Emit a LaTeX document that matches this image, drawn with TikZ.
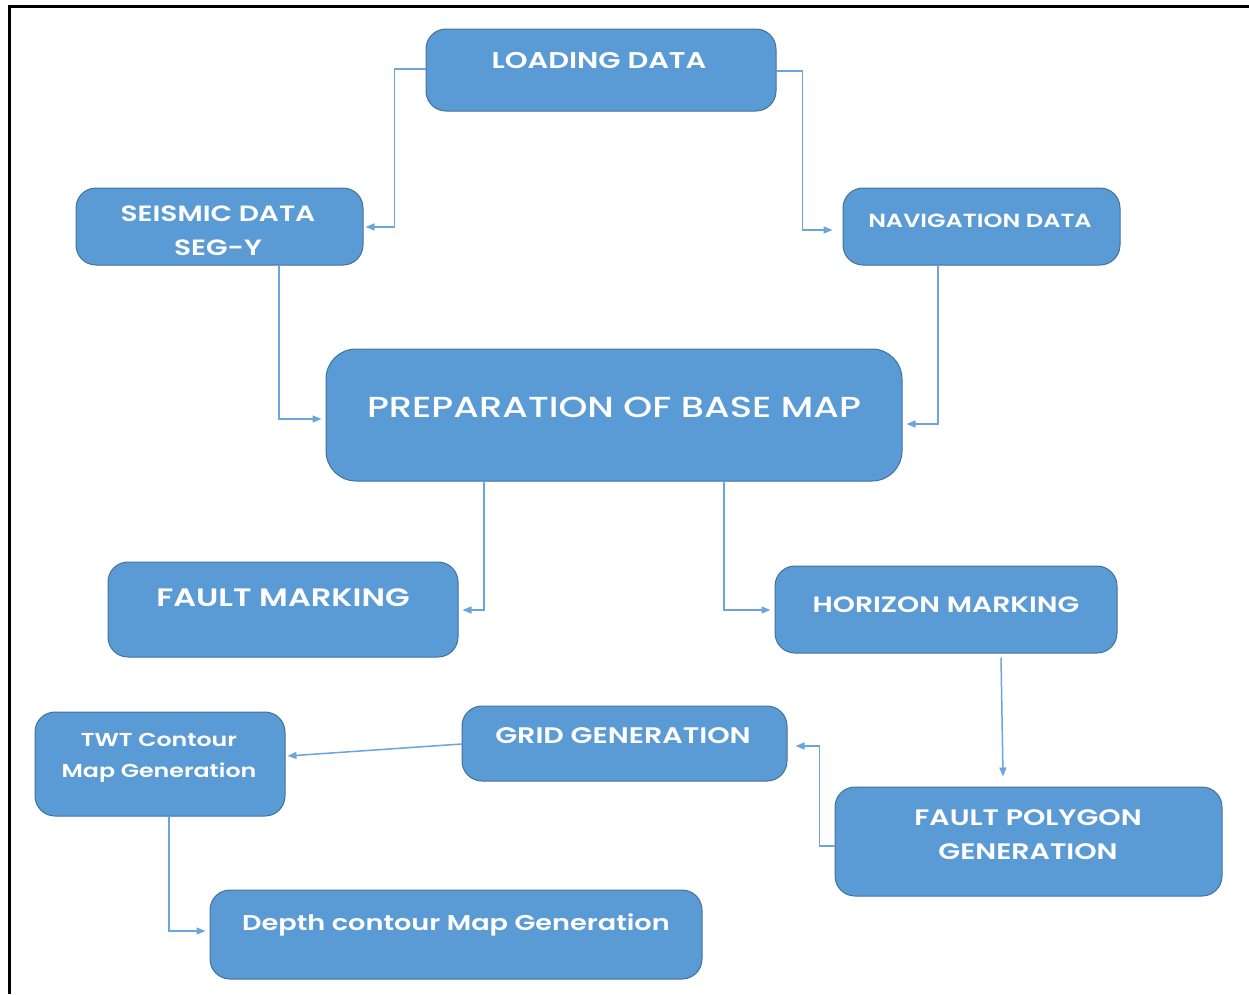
\documentclass[tikz,border=0pt]{standalone}
\usepackage{fontspec}
\setmainfont{Poppins}[FakeStretch=1.27, BoldFont={Poppins SemiBold}]
\newfontfamily\medfont{Poppins Medium}[FakeStretch=1.27]
\usetikzlibrary{arrows.meta}
\definecolor{boxblue}{HTML}{5B9BD5}
\definecolor{boxedge}{HTML}{41719C}
\definecolor{conn}{HTML}{6AA5DC}
\tikzset{
  box/.style={draw=boxedge, fill=boxblue, line width=1pt, rounded corners=20pt, inner sep=0pt},
  lbl/.style={text=white, align=center, inner sep=0pt},
  conline/.style={draw=conn, line width=1.5pt, -{Triangle[length=9pt,width=7pt]}}
}
\begin{document}
\begin{tikzpicture}[x=1pt,y=-1pt]
\useasboundingbox (0,0) rectangle (1249,994);
\draw[line width=3pt, black] (9,994) -- (9,6) -- (1249,6);

\node[box, minimum width=350pt, minimum height=82pt] (load) at (601,70) {};
\node[box, minimum width=287pt, minimum height=77pt] (seis) at (219.5,226.5) {};
\node[box, minimum width=277pt, minimum height=77pt] (nav) at (981.5,226.5) {};
\node[box, rounded corners=30pt, minimum width=576pt, minimum height=132pt] (prep) at (614,415) {};
\node[box, minimum width=350pt, minimum height=95pt] (fault) at (283,609.5) {};
\node[box, minimum width=342pt, minimum height=87pt] (hor) at (946,609.5) {};
\node[box, minimum width=325pt, minimum height=75pt] (grid) at (624.5,743.5) {};
\node[box, minimum width=250pt, minimum height=104pt] (twt) at (160,764) {};
\node[box, minimum width=387pt, minimum height=109pt] (fpoly) at (1028.5,841.5) {};
\node[box, minimum width=492pt, minimum height=89pt] (depth) at (456,934.5) {};

\node[lbl, font=\bfseries\fontsize{22.8}{26}\selectfont] (tload) at (599,61) {LOADING DATA};
\node[lbl, font=\bfseries\fontsize{22.1}{34}\selectfont] (tseis) at (218,231) {SEISMIC DATA\\SEG-Y};
\node[lbl, font=\bfseries\fontsize{19}{22}\selectfont] (tnav) at (980,221) {NAVIGATION DATA};
\node[lbl, font=\medfont\fontsize{29}{34}\selectfont] (tprep) at (614,407) {PREPARATION OF BASE MAP};
\node[lbl, font=\bfseries\fontsize{25.2}{30}\selectfont] (tfault) at (283,598) {FAULT MARKING};
\node[lbl, font=\bfseries\fontsize{22.2}{26}\selectfont] (thor) at (946,605) {HORIZON MARKING};
\node[lbl, font=\bfseries\fontsize{22.5}{26}\selectfont] (tgrid) at (623,736) {GRID GENERATION};
\node[lbl, font=\bfseries\fontsize{18.7}{31}\selectfont] (ttwt) at (159,757.5) {TWT Contour\\Map Generation};
\node[lbl, font=\bfseries\fontsize{22.4}{34}\selectfont] (tfpoly) at (1028,835) {FAULT POLYGON\\GENERATION};
\node[lbl, font=\bfseries\fontsize{21.4}{26}\selectfont] (tdepth) at (456,925) {Depth contour Map Generation};

\draw[conline] ([yshift=1pt]load.west) -- ++(-31,0) |- ([xshift=2pt,yshift=-0.5pt]seis.east);
\draw[conline] ([yshift=-1pt]load.east) -- ++(26,0) |- ([xshift=-10pt,yshift=-3.5pt]nav.west);
\draw[conline] ([xshift=59.5pt]seis.south) |- ([xshift=-4pt,yshift=-4pt]prep.west);
\draw[conline] ([xshift=-43.5pt]nav.south) |- ([xshift=4pt,yshift=-9pt]prep.east);
\draw[conline] ([xshift=-130pt]prep.south) |- ([xshift=4pt,yshift=-0.5pt]fault.east);
\draw[conline] ([xshift=110pt]prep.south) |- ([xshift=-4pt,yshift=-0.5pt]hor.west);
\draw[conline] ([xshift=55pt,yshift=-4pt]hor.south) -- ([xshift=-25.5pt,yshift=10pt]fpoly.north);
\draw[conline] ([yshift=-4.5pt]fpoly.west) -- ++(-15,0) |- ([xshift=8pt,yshift=-2.5pt]grid.east);
\draw[conline] ([yshift=-0.5pt]grid.west) -- ([xshift=2pt,yshift=8pt]twt.east);
\draw[conline] ([xshift=9pt]twt.south) |- ([xshift=-4pt,yshift=3.5pt]depth.west);
\end{tikzpicture}
\end{document}
